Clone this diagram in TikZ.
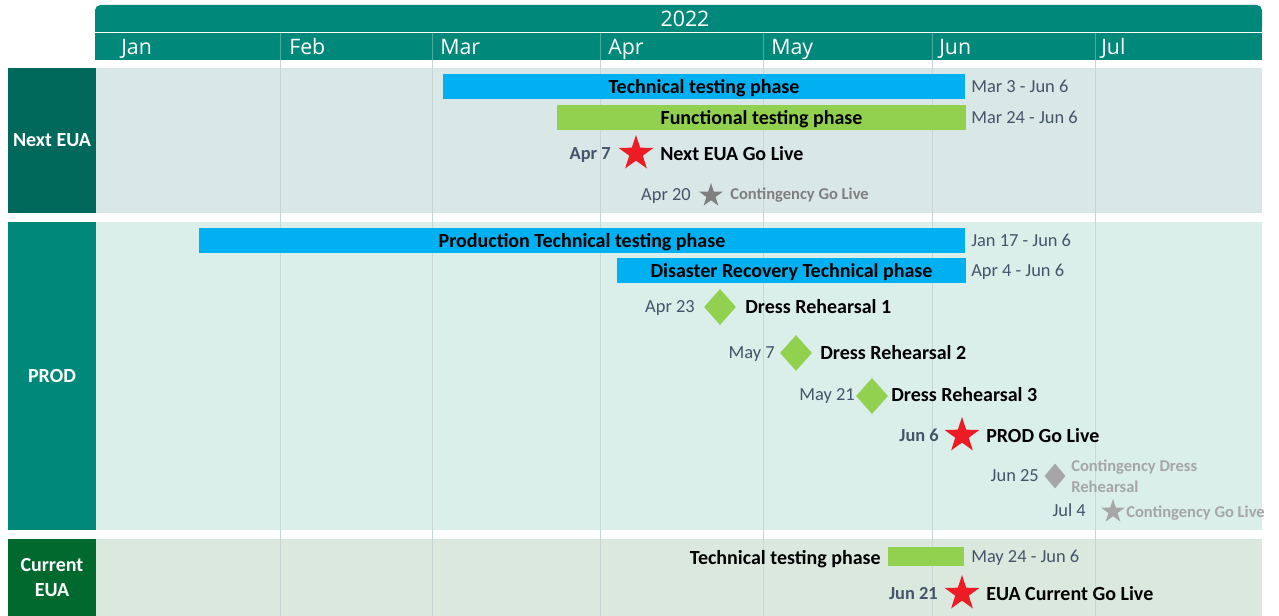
\documentclass[tikz,border=0pt]{standalone}
\usepackage{fontspec}
\setmainfont{Carlito}
\newfontfamily\monthfont{Open Sans}
\usetikzlibrary{shapes.geometric}
\definecolor{hdr}{HTML}{00897B}
\definecolor{lblnext}{HTML}{00695C}
\definecolor{lblprod}{HTML}{00897B}
\definecolor{lblcur}{HTML}{00692E}
\definecolor{bgnext}{HTML}{DAE7E7}
\definecolor{bgprod}{HTML}{DAEEEA}
\definecolor{bgcur}{HTML}{DAE8DE}
\definecolor{gridc}{HTML}{C8D6D6}
\definecolor{barblue}{HTML}{00B0F0}
\definecolor{bargreen}{HTML}{92D050}
\definecolor{dategray}{HTML}{44546A}
\definecolor{starred}{HTML}{ED1C24}
\definecolor{grayA}{HTML}{7F7F7F}
\definecolor{grayB}{HTML}{A6A6A6}
\newcommand\fbig{\fontsize{15}{17}\selectfont\bfseries}
\newcommand\fdate{\fontsize{13.8}{16}\selectfont}
\newcommand\fsmall{\fontsize{12.4}{15}\selectfont\bfseries}
\newcommand\fmonth{\monthfont\fontsize{16}{18}\selectfont}
\begin{document}
\begin{tikzpicture}[x=0.75pt,y=-0.75pt,
  rowlbl/.style={inner sep=0, text=white, font=\fbig, align=center},
  barbox/.style={inner sep=0, font=\fbig, text=black, minimum height=18.75pt, text height=9.8pt, text depth=0pt},
  dlbl/.style={inner sep=0, text=dategray, font=\fdate, text height=8.9pt, text depth=0pt},
  dlblb/.style={inner sep=0, text=dategray, font=\fdate\bfseries, text height=8.9pt, text depth=0pt},
  mslbl/.style={inner sep=0, text=black, font=\fbig, anchor=west, text height=9.8pt, text depth=0pt},
  contlbl/.style={inner sep=0, font=\fsmall, anchor=west, align=left},
  bigstar/.style={star, star points=5, star point ratio=2.6, inner sep=0, minimum size=27.75pt, fill=starred},
  smallstar/.style={star, star points=5, star point ratio=2.6, inner sep=0, minimum size=18.75pt},
  gdiam/.style={diamond, inner sep=0, fill=bargreen, minimum width=24pt, minimum height=27pt},
  monthlbl/.style={inner sep=0, anchor=west, text=white, font=\fmonth, text height=11.4pt, text depth=0pt}]
\useasboundingbox (0,0) rectangle (1279,616);
\fill[white] (0,0) rectangle (1279,616);
% header
\fill[hdr, rounded corners=4pt] (95,5) rectangle (1262,32);
\fill[hdr] (95,20) rectangle (1262,32);
\fill[hdr] (95,33) rectangle (1262,60);
\node[inner sep=0, text=white, font=\fmonth, text height=11.4pt, text depth=0pt] (year) at (685,19) {2022};
\node[monthlbl] (mjan) at (121,47) {Jan};
\node[monthlbl] (mfeb) at (289,47) {Feb};
\node[monthlbl] (mmar) at (440,47) {Mar};
\node[monthlbl] (mapr) at (608,47) {Apr};
\node[monthlbl] (mmay) at (771,47) {May};
\node[monthlbl] (mjun) at (939,47) {Jun};
\node[monthlbl] (mjul) at (1101,47) {Jul};
% row backgrounds
\fill[bgnext] (96,68) rectangle (1262,213);
\fill[bgprod] (96,222) rectangle (1262,530);
\fill[bgcur] (96,539) rectangle (1262,616);
% grid lines
\foreach \gx in {280,432,600,763,932,1095}{
  \draw[gridc, line width=0.75pt] (\gx,60) -- (\gx,616);
  \draw[white, opacity=0.3, line width=0.75pt] (\gx,33) -- (\gx,60);
}
% row labels
\node[rowlbl, fill=lblnext, minimum width=66pt, minimum height=108.75pt] (lnext) at (52,140.5) {Next EUA};
\node[rowlbl, fill=lblprod, minimum width=66pt, minimum height=231pt] (lprod) at (52,376) {PROD};
\node[rowlbl, fill=lblcur, minimum width=66pt, minimum height=57.75pt] (lcur) at (52,577.5) {Current\\[1.5pt]EUA};
% Next EUA
\node[barbox, fill=barblue, minimum width=391.5pt] (tt) at (704,86.5) {Technical testing phase};
\node[dlbl, anchor=west] (dtt) at (971,87) {Mar 3 - Jun 6};
\node[barbox, fill=bargreen, minimum width=306.75pt] (ft) at (761.5,117.5) {Functional testing phase};
\node[dlbl, anchor=west] (dft) at (971,118) {Mar 24 - Jun 6};
\node[bigstar] (s1) at (636,153.5) {};
\node[dlblb, anchor=east] (ds1) at (611,154) {Apr 7};
\node[mslbl] (ms1) at (660,154) {Next EUA Go Live};
\node[smallstar, fill=grayA] (s2) at (711,195.5) {};
\node[dlbl, anchor=east] (ds2) at (691,195) {Apr 20};
\node[contlbl, text=grayA] (ms2) at (730,195) {Contingency Go Live};
% PROD
\node[barbox, fill=barblue, minimum width=574.5pt] (ptt) at (582,240.5) {Production Technical testing phase};
\node[dlbl, anchor=west] (dptt) at (971,241) {Jan 17 - Jun 6};
\node[barbox, fill=barblue, minimum width=261.75pt] (dr) at (791.5,270.5) {Disaster Recovery Technical phase};
\node[dlbl, anchor=west] (ddr) at (971,271) {Apr 4 - Jun 6};
\node[gdiam] (r1) at (720,307) {};
\node[dlbl, anchor=east] (dr1) at (695,307) {Apr 23};
\node[mslbl] (mr1) at (745,307) {Dress Rehearsal 1};
\node[gdiam] (r2) at (796,353) {};
\node[dlbl, anchor=east] (dr2) at (775,353) {May 7};
\node[mslbl] (mr2) at (820,353) {Dress Rehearsal 2};
\node[gdiam] (r3) at (872,396) {};
\node[dlbl, anchor=east] (dr3) at (855,395) {May 21};
\node[mslbl] (mr3) at (891,395) {Dress Rehearsal 3};
\node[bigstar] (s3) at (962,435.5) {};
\node[dlblb, anchor=east] (ds3) at (939,436) {Jun 6};
\node[mslbl] (ms3) at (986,436) {PROD Go Live};
\node[diamond, inner sep=0, fill=grayB, minimum width=15.75pt, minimum height=18.75pt] (r4) at (1055,476) {};
\node[dlbl, anchor=east] (dr4) at (1039,476) {Jun 25};
\node[contlbl, text=grayB] (mr4) at (1071,476) {Contingency Dress\\[1pt]Rehearsal};
\node[smallstar, fill=grayB] (s4) at (1113,511.5) {};
\node[dlbl, anchor=east] (ds4) at (1086,511) {Jul 4};
\node[contlbl, text=grayB] (ms4) at (1126,513) {Contingency Go Live};
% Current EUA
\node[barbox, fill=bargreen, minimum width=57pt, minimum height=14.25pt] (ct) at (926,556.5) {};
\node[mslbl, anchor=east] (lct) at (881,558) {Technical testing phase};
\node[dlbl, anchor=west] (dct) at (971,557) {May 24 - Jun 6};
\node[bigstar] (s5) at (962,593.5) {};
\node[dlblb, anchor=east] (ds5) at (938,594) {Jun 21};
\node[mslbl] (ms5) at (986,594) {EUA Current Go Live};
\end{tikzpicture}
\end{document}
